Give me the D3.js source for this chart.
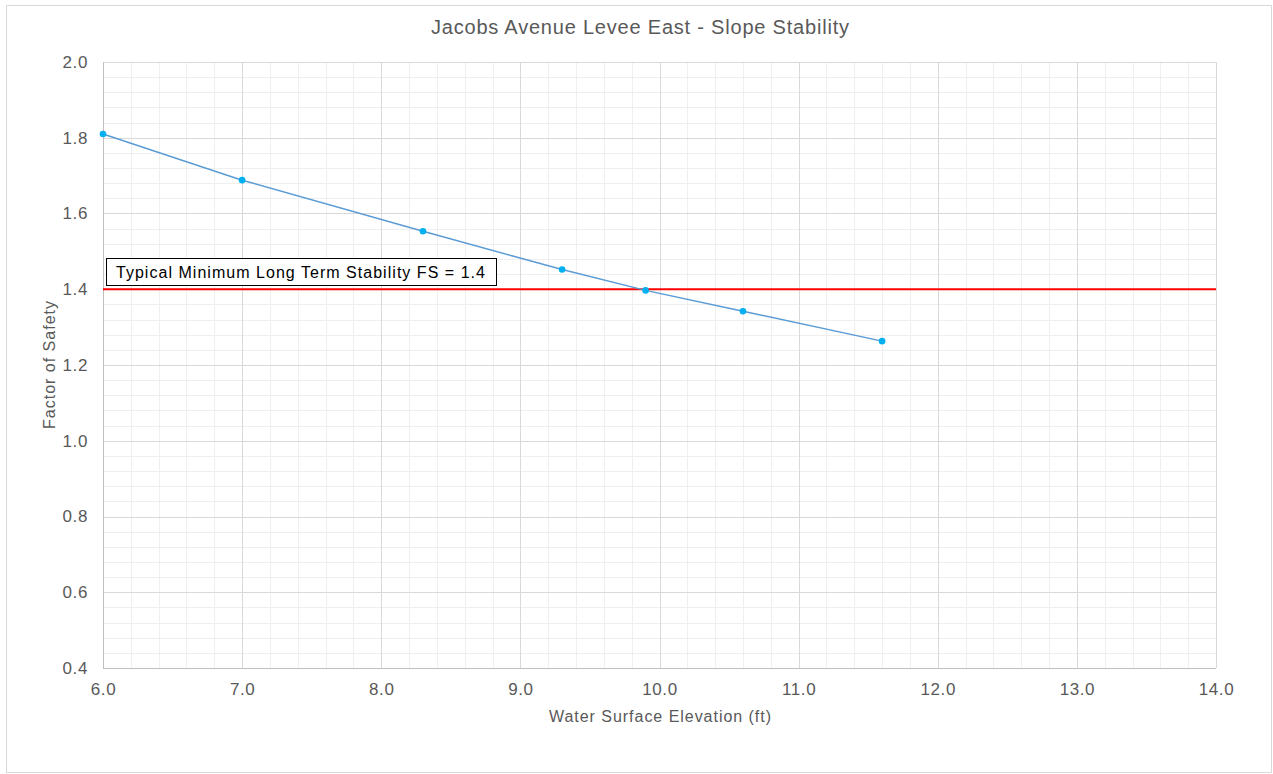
<!DOCTYPE html>
<html><head><meta charset="utf-8">
<script src="https://cdn.jsdelivr.net/npm/d3@7"></script>
<style>body{margin:0;background:#fff;font-family:"Liberation Sans",Arial,sans-serif;}</style>
</head><body><svg id="c" width="1273" height="774"></svg>
<script>
const elevations = [6.0, 7.0, 8.3, 9.3, 9.9, 10.6, 11.6];
const factorOfSafety = [1.81, 1.688, 1.553, 1.452, 1.397, 1.342, 1.263];
const minFS = 1.4;
const xTicks = [6, 7, 8, 9, 10, 11, 12, 13, 14];
const yTicks = [0.4, 0.6, 0.8, 1.0, 1.2, 1.4, 1.6, 1.8, 2.0];
const titleText = "Jacobs Avenue Levee East - Slope Stability";
const xTitle = "Water Surface Elevation (ft)";
const yTitle = "Factor of Safety";
const annotation = "Typical Minimum Long Term Stability FS = 1.4";

const svg = d3.select("#c");
svg.append("rect").attr("x",6.5).attr("y",5.5).attr("width",1265).attr("height",767)
  .attr("fill","#fff").attr("stroke","#d9d9d9");
const L=103,R=1216,T=62,B=668;
const x=d3.scaleLinear().domain([6,14]).range([L,R]);
const y=d3.scaleLinear().domain([0.4,2.0]).range([B,T]);
const g=svg.append("g");
const xm=d3.range(6,14.0001,0.2), ym=d3.range(0.4,2.0001,0.04);
g.selectAll(".xm").data(xm).enter().append("line")
 .attr("x1",d=>Math.round(x(d))+0.5).attr("x2",d=>Math.round(x(d))+0.5).attr("y1",T).attr("y2",B)
 .attr("stroke","#efefef").attr("stroke-width",1);
g.selectAll(".ym").data(ym).enter().append("line")
 .attr("y1",d=>Math.round(y(d))+0.5).attr("y2",d=>Math.round(y(d))+0.5).attr("x1",L).attr("x2",R)
 .attr("stroke","#efefef").attr("stroke-width",1);
g.selectAll(".xM").data(xTicks).enter().append("line")
 .attr("x1",d=>Math.round(x(d))+0.5).attr("x2",d=>Math.round(x(d))+0.5).attr("y1",T).attr("y2",B)
 .attr("stroke","#d9d9d9").attr("stroke-width",1);
g.selectAll(".yM").data(yTicks).enter().append("line")
 .attr("y1",d=>Math.round(y(d))+0.5).attr("y2",d=>Math.round(y(d))+0.5).attr("x1",L).attr("x2",R)
 .attr("stroke","#d9d9d9").attr("stroke-width",1);
g.append("line").attr("x1",L).attr("x2",R).attr("y1",B+0.5).attr("y2",B+0.5).attr("stroke","#bfbfbf");
g.append("line").attr("x1",L+0.5).attr("x2",L+0.5).attr("y1",T).attr("y2",B).attr("stroke","#bfbfbf");
const xa=svg.append("g").attr("transform",`translate(0,${B})`)
 .call(d3.axisBottom(x).tickValues(xTicks).tickFormat(d3.format(".1f")).tickSize(0).tickPadding(15));
const ya=svg.append("g").attr("transform",`translate(${L},0)`)
 .call(d3.axisLeft(y).tickValues(yTicks).tickFormat(d3.format(".1f")).tickSize(0).tickPadding(15));
[xa,ya].forEach(a=>{a.select(".domain").remove();
 a.selectAll("text").attr("fill","#595959").attr("font-size","17px").attr("letter-spacing","0.6px")
  .attr("font-family","Liberation Sans, Arial, sans-serif");});
svg.append("line").attr("x1",L).attr("x2",R).attr("y1",y(minFS)).attr("y2",y(minFS))
 .attr("stroke","#ff0000").attr("stroke-width",2);
svg.append("rect").attr("x",106.5).attr("y",258.5).attr("width",390).attr("height",27)
 .attr("fill","#fff").attr("stroke","#000").attr("stroke-width",1);
svg.append("text").attr("x",116).attr("y",278).attr("font-size","16px").attr("fill","#000")
 .attr("letter-spacing","1px").attr("textLength",370).attr("lengthAdjust","spacing")
 .text(annotation);
const pts=elevations.map((e,i)=>[e,factorOfSafety[i]]);
svg.append("path").datum(pts).attr("fill","none").attr("stroke","#5b9bd5").attr("stroke-width",1.5)
 .attr("d",d3.line().x(d=>x(d[0])).y(d=>y(d[1])));
svg.selectAll(".pt").data(pts).enter().append("circle")
 .attr("cx",d=>x(d[0])).attr("cy",d=>y(d[1])).attr("r",3.3).attr("fill","#00b0f0");
svg.append("text").attr("x",640).attr("y",34).attr("text-anchor","middle").attr("font-size","20px")
 .attr("fill","#595959").attr("textLength",418).attr("lengthAdjust","spacing").text(titleText);
svg.append("text").attr("x",660).attr("y",722).attr("text-anchor","middle").attr("font-size","16px")
 .attr("fill","#595959").attr("textLength",222).attr("lengthAdjust","spacing").text(xTitle);
svg.append("text").attr("transform","translate(55,365) rotate(-90)").attr("text-anchor","middle")
 .attr("font-size","16px").attr("fill","#595959").attr("textLength",128).attr("lengthAdjust","spacing").text(yTitle);
</script></body></html>
